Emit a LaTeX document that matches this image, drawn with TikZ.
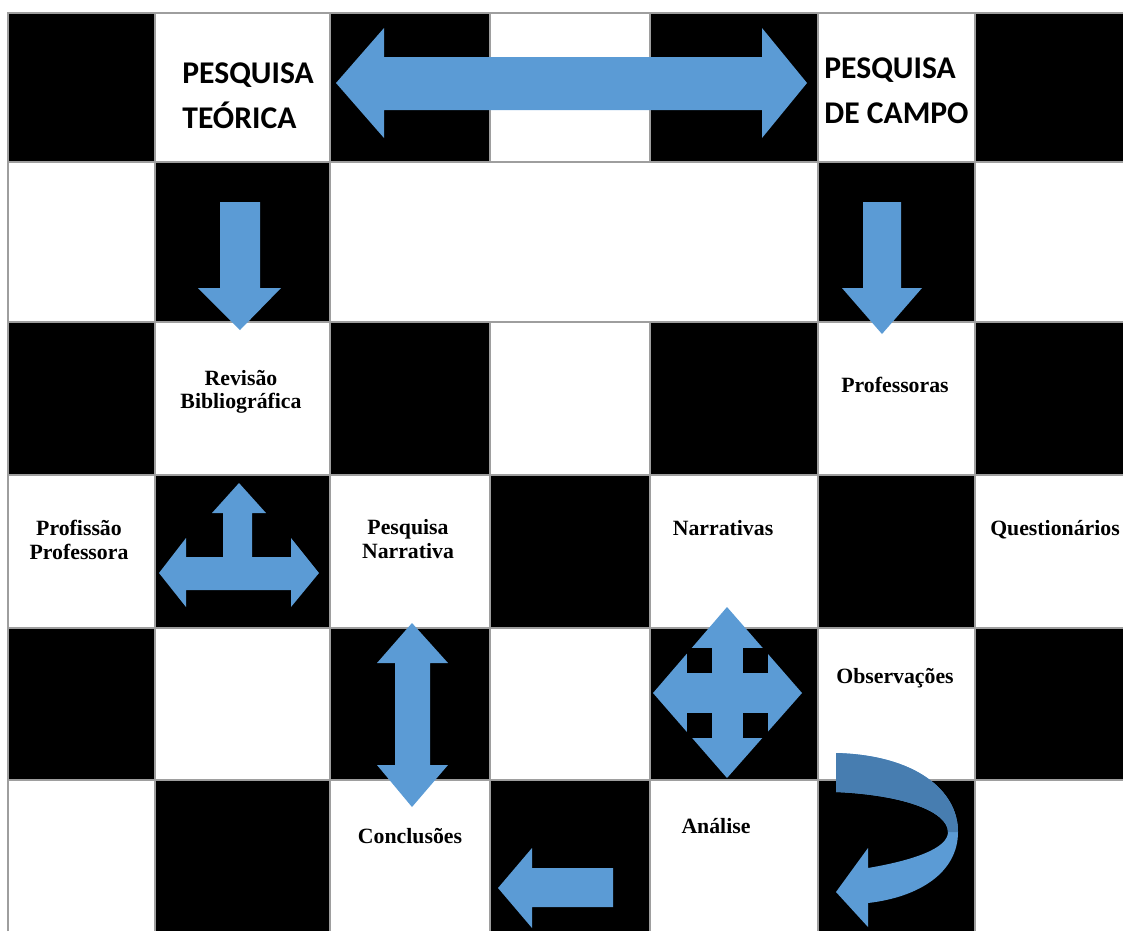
\documentclass[tikz,border=0pt]{standalone}
\usepackage{fontspec}
\setmainfont{Liberation Serif}
\newfontfamily\carlito{Carlito}
\definecolor{arrowblue}{HTML}{5B9BD5}
\definecolor{arrowdark}{HTML}{477DB0}
\definecolor{gridgray}{HTML}{9E9E9E}
\tikzset{
  blockarrow/.style={fill=arrowblue},
  cellline/.style={draw=gridgray, line width=1.5pt},
  celltext/.style={font=\bfseries\fontsize{12.4}{13.4}\selectfont, align=center, inner sep=0pt},
  headtext/.style={font=\carlito\bfseries\fontsize{18}{25.5}\selectfont, align=left, inner sep=0pt, anchor=west},
}

\begin{document}
\begin{tikzpicture}[x=0.02cm, y=-0.02cm, line join=miter]
  \useasboundingbox (0,0) rectangle (1123,931);
  % board
  \foreach \r/\ya/\yb in {1/13/162, 2/162/322, 3/322/475, 4/475/628, 5/628/780, 6/780/931}{
    \foreach \c/\xa/\xb in {1/8/155, 2/155/330, 3/330/490, 4/490/650, 5/650/818, 6/818/975, 7/975/1123}{
      \pgfmathtruncatemacro{\dark}{(mod(\r+\c,2)==0) && !(\r==2 && \c==4)}
      \ifnum\dark=1 \fill[black] (\xa,\ya) rectangle (\xb,\yb); \fi
    }
  }
  \foreach \x in {155, 330, 818, 975}
    \draw[cellline] (\x,13) -- (\x,931);
  \foreach \x in {490, 650}{
    \draw[cellline] (\x,13) -- (\x,162);
    \draw[cellline] (\x,322) -- (\x,931);
  }
  \foreach \y in {162, 322, 475, 628, 780}
    \draw[cellline] (8,\y) -- (1123,\y);
  \draw[cellline] (8,931) -- (8,13) -- (1123,13);

  % arrows
  \fill[blockarrow] (336,83) -- (384,28) -- (384,57) -- (762,57) -- (762,28) -- (807,83)
    -- (762,138) -- (762,110) -- (384,110) -- (384,138) -- cycle;
  \fill[blockarrow] (220,202) -- (260,202) -- (260,288) -- (281,288) -- (240,330)
    -- (198,288) -- (220,288) -- cycle;
  \fill[blockarrow] (863,202) -- (901,202) -- (901,288) -- (922,288) -- (882,334)
    -- (842,288) -- (863,288) -- cycle;
  \fill[blockarrow] (159,573) -- (186,538) -- (186,557) -- (223,557) -- (223,513) -- (212,513)
    -- (239,483) -- (266,513) -- (252,513) -- (252,557) -- (291,557) -- (291,538) -- (319,573)
    -- (291,607) -- (291,590) -- (186,590) -- (186,607) -- cycle;
  \fill[blockarrow] (412,623) -- (448,663) -- (430,663) -- (430,765) -- (448,765) -- (412,807)
    -- (377,765) -- (395,765) -- (395,663) -- (377,663) -- cycle;
  \fill[blockarrow] (727,607) -- (802,693) -- (727,778) -- (653,693) -- cycle;
  \foreach \xa/\ya in {687/648, 743/648, 687/713, 743/713}
    \fill[black] (\xa,\ya) rectangle ++(25,25);
  \fill[blockarrow] (498,888) -- (532,848) -- (532,868) -- (613,868) -- (613,907)
    -- (532,907) -- (532,928) -- cycle;
  \fill[blockarrow] (836,753) .. controls (915,755) and (958,790) .. (958,832)
    .. controls (958,872) and (920,897) .. (868,903) -- (868,927) -- (836,892) -- (868,848)
    -- (868,868) .. controls (915,860) and (948,848) .. (948,832)
    .. controls (948,812) and (905,795) .. (836,792) -- cycle;
  \fill[arrowdark] (836,753) .. controls (915,755) and (958,790) .. (958,832) -- (948,832)
    .. controls (948,812) and (905,795) .. (836,792) -- cycle;

  % labels
  \node[headtext] (teorica) at (182,96) {PESQUISA\\TEÓRICA};
  \node[headtext] (campo) at (824,91) {PESQUISA\\DE CAMPO};
  \node[celltext] (revisao) at (241,392) {Revisão\\Bibliográfica};
  \node[celltext, anchor=base] (professoras) at (895,392) {Professoras};
  \node[celltext] (profissao) at (79,540) {Profissão\\Professora};
  \node[celltext] (pesqnarr) at (408,539) {Pesquisa\\Narrativa};
  \node[celltext, anchor=base] (narrativas) at (723,535) {Narrativas};
  \node[celltext, anchor=base] (questionarios) at (1055,535) {Questionários};
  \node[celltext, anchor=base] (observacoes) at (895,683) {Observações};
  \node[celltext, anchor=base] (conclusoes) at (410,843) {Conclusões};
  \node[celltext, anchor=base] (analise) at (716,833) {Análise};
\end{tikzpicture}
\end{document}
